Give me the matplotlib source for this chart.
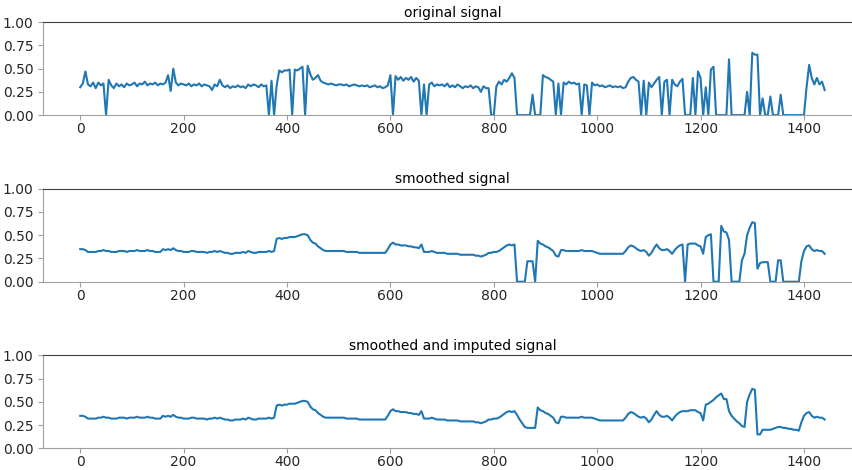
# -*- coding: utf-8 -*-
"""
三段信号对比图：原始信号 / 平滑信号 / 平滑并插补后的信号
"""

import numpy as np
import matplotlib
matplotlib.use('Agg')
import matplotlib.pyplot as plt

# 时间轴（分钟），每 5 分钟读取一个值
minutes = np.arange(0, 1445, 5)

# 原始信号
original = [
    0.30, 0.34, 0.47, 0.33, 0.31, 0.35, 0.29, 0.35, 0.32, 0.34,   # 0-45
    0.00, 0.38, 0.32, 0.29, 0.34, 0.31, 0.33, 0.30, 0.34, 0.32,   # 50-95
    0.33, 0.35, 0.31, 0.34, 0.33, 0.36, 0.32, 0.34, 0.33, 0.35,   # 100-145
    0.32, 0.34, 0.33, 0.35, 0.43, 0.26, 0.50, 0.35, 0.32, 0.34,   # 150-195
    0.33, 0.32, 0.34, 0.31, 0.33, 0.32, 0.34, 0.31, 0.33, 0.32,   # 200-245
    0.31, 0.27, 0.33, 0.31, 0.38, 0.32, 0.30, 0.32, 0.29, 0.31,   # 250-295
    0.30, 0.32, 0.30, 0.31, 0.29, 0.33, 0.31, 0.33, 0.32, 0.30,   # 300-345
    0.33, 0.31, 0.32, 0.00, 0.37, 0.00, 0.32, 0.48, 0.46, 0.48,   # 350-395
    0.48, 0.49, 0.00, 0.49, 0.48, 0.50, 0.52, 0.00, 0.53, 0.44,   # 400-445
    0.38, 0.40, 0.43, 0.37, 0.35, 0.34, 0.33, 0.34, 0.33, 0.32,   # 450-495
    0.33, 0.33, 0.32, 0.33, 0.31, 0.32, 0.33, 0.32, 0.31, 0.32,   # 500-545
    0.31, 0.32, 0.30, 0.31, 0.32, 0.30, 0.31, 0.29, 0.30, 0.32,   # 550-595
    0.43, 0.00, 0.42, 0.38, 0.41, 0.37, 0.40, 0.38, 0.41, 0.36,   # 600-645
    0.40, 0.37, 0.00, 0.33, 0.00, 0.33, 0.35, 0.31, 0.33, 0.32,   # 650-695
    0.33, 0.31, 0.34, 0.30, 0.32, 0.30, 0.33, 0.31, 0.29, 0.31,   # 700-745
    0.30, 0.32, 0.29, 0.31, 0.30, 0.25, 0.31, 0.29, 0.29, 0.00,   # 750-795
    0.00, 0.31, 0.36, 0.33, 0.38, 0.36, 0.40, 0.45, 0.40, 0.00,   # 800-845
    0.00, 0.00, 0.00, 0.00, 0.00, 0.22, 0.00, 0.00, 0.00, 0.43,   # 850-895
    0.41, 0.40, 0.38, 0.36, 0.00, 0.34, 0.00, 0.35, 0.33, 0.36,   # 900-945
    0.34, 0.35, 0.33, 0.34, 0.00, 0.33, 0.32, 0.00, 0.35, 0.32,   # 950-995
    0.33, 0.31, 0.32, 0.30, 0.31, 0.32, 0.30, 0.31, 0.30, 0.31,   # 1000-1045
    0.29, 0.30, 0.36, 0.40, 0.41, 0.38, 0.36, 0.00, 0.37, 0.00,   # 1050-1095
    0.35, 0.30, 0.34, 0.38, 0.41, 0.00, 0.36, 0.38, 0.00, 0.38,   # 1100-1145
    0.33, 0.31, 0.36, 0.39, 0.00, 0.00, 0.00, 0.40, 0.00, 0.47,   # 1150-1195
    0.40, 0.00, 0.30, 0.00, 0.49, 0.52, 0.00, 0.00, 0.00, 0.00,   # 1200-1245
    0.00, 0.60, 0.00, 0.00, 0.00, 0.00, 0.00, 0.00, 0.25, 0.00,   # 1250-1295
    0.67, 0.65, 0.65, 0.00, 0.18, 0.00, 0.00, 0.20, 0.00, 0.00,   # 1300-1345
    0.00, 0.22, 0.00, 0.00, 0.00, 0.00, 0.00, 0.00, 0.00, 0.00,   # 1350-1395
    0.00, 0.30, 0.54, 0.40, 0.33, 0.40, 0.33, 0.36, 0.27,         # 1400-1440
]

# 平滑后的信号
smoothed = [
    0.35, 0.35, 0.34, 0.32, 0.32, 0.32, 0.32, 0.33, 0.33, 0.34,   # 0-45
    0.33, 0.33, 0.32, 0.32, 0.32, 0.33, 0.33, 0.33, 0.32, 0.33,   # 50-95
    0.33, 0.33, 0.34, 0.33, 0.33, 0.33, 0.34, 0.33, 0.33, 0.32,   # 100-145
    0.32, 0.32, 0.35, 0.34, 0.35, 0.34, 0.36, 0.34, 0.33, 0.33,   # 150-195
    0.32, 0.32, 0.32, 0.33, 0.33, 0.32, 0.32, 0.32, 0.32, 0.31,   # 200-245
    0.32, 0.32, 0.33, 0.32, 0.33, 0.32, 0.31, 0.31, 0.30, 0.30,   # 250-295
    0.31, 0.31, 0.31, 0.32, 0.31, 0.33, 0.32, 0.31, 0.31, 0.32,   # 300-345
    0.32, 0.32, 0.32, 0.33, 0.32, 0.33, 0.46, 0.47, 0.46, 0.47,   # 350-395
    0.47, 0.48, 0.48, 0.48, 0.49, 0.50, 0.51, 0.51, 0.50, 0.45,   # 400-445
    0.42, 0.41, 0.38, 0.36, 0.34, 0.33, 0.33, 0.33, 0.33, 0.33,   # 450-495
    0.33, 0.33, 0.33, 0.32, 0.32, 0.32, 0.32, 0.32, 0.31, 0.31,   # 500-545
    0.31, 0.31, 0.31, 0.31, 0.31, 0.31, 0.31, 0.31, 0.31, 0.35,   # 550-595
    0.40, 0.42, 0.40, 0.40, 0.39, 0.39, 0.39, 0.38, 0.38, 0.37,   # 600-645
    0.37, 0.36, 0.40, 0.32, 0.32, 0.32, 0.33, 0.32, 0.31, 0.31,   # 650-695
    0.31, 0.31, 0.30, 0.30, 0.30, 0.30, 0.30, 0.29, 0.29, 0.29,   # 700-745
    0.29, 0.29, 0.29, 0.28, 0.28, 0.27, 0.28, 0.29, 0.31, 0.31,   # 750-795
    0.32, 0.32, 0.33, 0.35, 0.37, 0.39, 0.40, 0.39, 0.40, 0.00,   # 800-845
    0.00, 0.00, 0.00, 0.22, 0.22, 0.22, 0.00, 0.44, 0.41, 0.40,   # 850-895
    0.38, 0.37, 0.35, 0.33, 0.28, 0.27, 0.34, 0.34, 0.33, 0.33,   # 900-945
    0.33, 0.33, 0.33, 0.33, 0.34, 0.33, 0.33, 0.33, 0.33, 0.32,   # 950-995
    0.31, 0.30, 0.30, 0.30, 0.30, 0.30, 0.30, 0.30, 0.30, 0.30,   # 1000-1045
    0.30, 0.33, 0.37, 0.39, 0.38, 0.36, 0.34, 0.33, 0.34, 0.32,   # 1050-1095
    0.28, 0.31, 0.36, 0.40, 0.36, 0.34, 0.34, 0.35, 0.33, 0.30,   # 1100-1145
    0.34, 0.37, 0.39, 0.40, 0.00, 0.40, 0.41, 0.41, 0.41, 0.39,   # 1150-1195
    0.38, 0.30, 0.48, 0.50, 0.51, 0.00, 0.00, 0.00, 0.60, 0.54,   # 1200-1245
    0.53, 0.45, 0.00, 0.00, 0.00, 0.00, 0.23, 0.30, 0.50, 0.58,   # 1250-1295
    0.64, 0.63, 0.14, 0.20, 0.21, 0.21, 0.21, 0.00, 0.00, 0.00,   # 1300-1345
    0.23, 0.23, 0.00, 0.00, 0.00, 0.00, 0.00, 0.00, 0.00, 0.22,   # 1350-1395
    0.33, 0.38, 0.39, 0.35, 0.33, 0.34, 0.33, 0.33, 0.30,         # 1400-1440
]

# 平滑并插补后的信号
imputed = [
    0.35, 0.35, 0.34, 0.32, 0.32, 0.32, 0.32, 0.33, 0.33, 0.34,   # 0-45
    0.33, 0.33, 0.32, 0.32, 0.32, 0.33, 0.33, 0.33, 0.32, 0.33,   # 50-95
    0.33, 0.33, 0.34, 0.33, 0.33, 0.33, 0.34, 0.33, 0.33, 0.32,   # 100-145
    0.32, 0.32, 0.35, 0.34, 0.35, 0.34, 0.36, 0.34, 0.33, 0.33,   # 150-195
    0.32, 0.32, 0.32, 0.33, 0.33, 0.32, 0.32, 0.32, 0.32, 0.31,   # 200-245
    0.32, 0.32, 0.33, 0.32, 0.33, 0.32, 0.31, 0.31, 0.30, 0.30,   # 250-295
    0.31, 0.31, 0.31, 0.32, 0.31, 0.33, 0.32, 0.31, 0.31, 0.32,   # 300-345
    0.32, 0.32, 0.32, 0.33, 0.32, 0.33, 0.46, 0.47, 0.46, 0.47,   # 350-395
    0.47, 0.48, 0.48, 0.48, 0.49, 0.50, 0.51, 0.51, 0.50, 0.45,   # 400-445
    0.42, 0.41, 0.38, 0.36, 0.34, 0.33, 0.33, 0.33, 0.33, 0.33,   # 450-495
    0.33, 0.33, 0.33, 0.32, 0.32, 0.32, 0.32, 0.32, 0.31, 0.31,   # 500-545
    0.31, 0.31, 0.31, 0.31, 0.31, 0.31, 0.31, 0.31, 0.31, 0.35,   # 550-595
    0.40, 0.42, 0.40, 0.40, 0.39, 0.39, 0.39, 0.38, 0.38, 0.37,   # 600-645
    0.37, 0.36, 0.40, 0.32, 0.32, 0.32, 0.33, 0.32, 0.31, 0.31,   # 650-695
    0.31, 0.31, 0.30, 0.30, 0.30, 0.30, 0.30, 0.29, 0.29, 0.29,   # 700-745
    0.29, 0.29, 0.29, 0.28, 0.28, 0.27, 0.28, 0.29, 0.31, 0.31,   # 750-795
    0.32, 0.32, 0.33, 0.35, 0.37, 0.39, 0.40, 0.39, 0.40, 0.36,   # 800-845
    0.31, 0.27, 0.23, 0.22, 0.22, 0.22, 0.22, 0.44, 0.41, 0.40,   # 850-895
    0.38, 0.37, 0.35, 0.33, 0.28, 0.27, 0.34, 0.34, 0.33, 0.33,   # 900-945
    0.33, 0.33, 0.33, 0.33, 0.34, 0.33, 0.33, 0.33, 0.33, 0.32,   # 950-995
    0.31, 0.30, 0.30, 0.30, 0.30, 0.30, 0.30, 0.30, 0.30, 0.30,   # 1000-1045
    0.30, 0.33, 0.37, 0.39, 0.38, 0.36, 0.34, 0.33, 0.34, 0.32,   # 1050-1095
    0.28, 0.31, 0.36, 0.40, 0.36, 0.34, 0.34, 0.35, 0.33, 0.30,   # 1100-1145
    0.34, 0.37, 0.39, 0.40, 0.40, 0.40, 0.41, 0.41, 0.41, 0.39,   # 1150-1195
    0.38, 0.30, 0.47, 0.48, 0.50, 0.52, 0.55, 0.57, 0.59, 0.53,   # 1200-1245
    0.53, 0.40, 0.35, 0.32, 0.29, 0.27, 0.24, 0.23, 0.50, 0.58,   # 1250-1295
    0.64, 0.63, 0.15, 0.15, 0.20, 0.20, 0.20, 0.20, 0.21, 0.22,   # 1300-1345
    0.23, 0.23, 0.22, 0.22, 0.21, 0.21, 0.20, 0.20, 0.19, 0.28,   # 1350-1395
    0.35, 0.38, 0.39, 0.35, 0.33, 0.34, 0.33, 0.33, 0.31,         # 1400-1440
]

titles = ['original signal', 'smoothed signal', 'smoothed and imputed signal']
series = [original, smoothed, imputed]
y_ticks = [0.00, 0.25, 0.50, 0.75, 1.00]

fig = plt.figure(figsize=(8.53, 4.70), dpi=100)

# 三个子图的位置（左、下、宽、高），右侧略超出画布
bottoms = [0.755, 0.4006, 0.046]
for title, values, bottom in zip(titles, series, bottoms):
    ax = fig.add_axes([0.0504, bottom, 0.960, 0.198])
    ax.plot(minutes, values, color='#1f77b4', linewidth=1.5)
    ax.set_ylim(0, 1)
    ax.set_yticks(y_ticks)
    ax.set_xticks([0, 200, 400, 600, 800, 1000, 1200, 1400])
    ax.set_title(title, fontsize=10, pad=4)
    ax.spines['top'].set_color('#404040')
    ax.spines['left'].set_color('#a0a0a0')
    ax.spines['bottom'].set_color('#a0a0a0')
    ax.spines['right'].set_visible(False)
    ax.tick_params(colors='#a0a0a0', labelcolor='#262626', labelsize=10)
    ax.tick_params(axis='x', pad=1.5)

plt.savefig('out.png', dpi=100)
plt.close()
